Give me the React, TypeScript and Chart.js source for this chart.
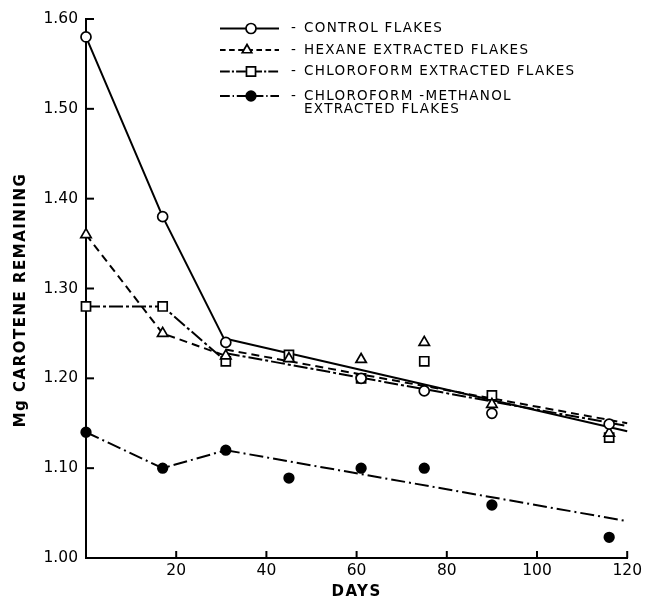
import React, { useEffect, useRef } from 'react';
import { Chart, registerables } from 'chart.js';

Chart.register(...registerables);

// ---- data ----
const days = [0, 17, 31, 45, 61, 75, 90, 116];
const controlFlakes = [1.58, 1.38, 1.24, null, 1.2, 1.186, 1.161, 1.149];
const hexaneFlakes = [1.36, 1.25, 1.225, 1.222, 1.221, 1.24, 1.171, 1.139];
const chloroformFlakes = [1.28, 1.28, 1.219, 1.226, 1.2, 1.219, 1.181, 1.134];
const chlMethFlakes = [1.14, 1.1, 1.12, 1.089, 1.1, 1.1, 1.059, 1.023];

// fitted (regression) lines, start and end
const fitDays = [31, 120];
const controlFit = [1.244, 1.141];
const hexaneFit = [1.232, 1.15];
const chloroformFit = [1.228, 1.147];
const chlMethFit = [1.12, 1.041];

// number of leading points joined by a polyline
const joinedCount = 3;

const xTickValues = [20, 40, 60, 80, 100, 120];
const yTickValues = [1.0, 1.1, 1.2, 1.3, 1.4, 1.5, 1.6];

const seriesLabels = [
  ['CONTROL FLAKES'],
  ['HEXANE EXTRACTED FLAKES'],
  ['CHLOROFORM EXTRACTED FLAKES'],
  ['CHLOROFORM -METHANOL', 'EXTRACTED FLAKES'],
];
const xTitle = 'DAYS';
const yTitle = 'Mg CAROTENE REMAINING';

// ---- styles ----
const INK = '#000';
const LINE_W = 2;
const styles = [
  { values: controlFlakes, fit: controlFit, pointStyle: 'circle', radius: 5, fill: '#fff', dash: [] as number[] },
  { values: hexaneFlakes, fit: hexaneFit, pointStyle: 'triangle', radius: 6, fill: '#fff', dash: [8, 5] },
  { values: chloroformFlakes, fit: chloroformFit, pointStyle: 'rect', radius: 6.4, fill: '#fff', dash: [14, 3, 3, 3] },
  { values: chlMethFlakes, fit: chlMethFit, pointStyle: 'circle', radius: 4.8, fill: '#000', dash: [14, 4, 2, 4] },
];

function drawMarker(ctx: CanvasRenderingContext2D, kind: string, x: number, y: number, r: number, fill: string) {
  ctx.save();
  ctx.setLineDash([]);
  ctx.lineWidth = 1.7;
  ctx.strokeStyle = INK;
  ctx.fillStyle = fill;
  ctx.beginPath();
  if (kind === 'circle') {
    ctx.arc(x, y, r, 0, Math.PI * 2);
  } else if (kind === 'triangle') {
    ctx.moveTo(x, y - r);
    ctx.lineTo(x + r * Math.sin((2 * Math.PI) / 3), y - r * Math.cos((2 * Math.PI) / 3));
    ctx.lineTo(x + r * Math.sin((4 * Math.PI) / 3), y - r * Math.cos((4 * Math.PI) / 3));
    ctx.closePath();
  } else {
    const s = r * Math.SQRT1_2;
    ctx.rect(x - s, y - s, 2 * s, 2 * s);
  }
  ctx.fill();
  ctx.stroke();
  ctx.restore();
}

const decorPlugin = {
  id: 'decor',
  afterDraw(chart: any) {
    const { ctx, chartArea } = chart;
    const xs = chart.scales.x;
    const ys = chart.scales.y;
    ctx.save();
    ctx.strokeStyle = INK;
    ctx.fillStyle = INK;
    ctx.lineWidth = 2;
    // inward tick marks
    yTickValues.forEach((v) => {
      if (v === yTickValues[0]) return;
      const py = ys.getPixelForValue(v);
      ctx.beginPath();
      ctx.moveTo(chartArea.left, py);
      ctx.lineTo(chartArea.left + 8, py);
      ctx.stroke();
    });
    xTickValues.forEach((v) => {
      const px = xs.getPixelForValue(v);
      ctx.beginPath();
      ctx.moveTo(px, chartArea.bottom);
      ctx.lineTo(px, chartArea.bottom - 7);
      ctx.stroke();
    });

    // axis titles
    ctx.textAlign = 'center';
    ctx.textBaseline = 'middle';
    ctx.font = 'bold 15px "DejaVu Sans"';
    (ctx as any).letterSpacing = '1.5px';
    ctx.fillText(xTitle, (chartArea.left + chartArea.right) / 2, 592);
    ctx.save();
    ctx.translate(21, 300);
    ctx.rotate(-Math.PI / 2);
    ctx.fillText(yTitle, 0, 0);
    ctx.restore();

    // legend
    const rowY = [28.5, 50, 71.5, 96];
    const markerX = [251, 247, 251, 251];
    ctx.font = '13.5px "DejaVu Sans"';
    (ctx as any).letterSpacing = '1.3px';
    ctx.textAlign = 'left';
    styles.forEach((s, i) => {
      const yy = rowY[i];
      ctx.save();
      ctx.lineWidth = LINE_W;
      ctx.setLineDash(s.dash.length ? s.dash.map((d) => d * 0.7) : []);
      ctx.beginPath();
      ctx.moveTo(220, yy);
      ctx.lineTo(279, yy);
      ctx.stroke();
      ctx.restore();
      drawMarker(ctx, s.pointStyle, markerX[i], yy, s.pointStyle === 'triangle' ? 5.5 : s.radius, s.fill);
      ctx.fillText('-', 291, yy);
      seriesLabels[i].forEach((line, k) => {
        ctx.fillText(line, 304, yy + k * 13.5);
      });
    });
    (ctx as any).letterSpacing = '0px';
    ctx.restore();
  },
};

export default function App() {
  const canvasRef = useRef<HTMLCanvasElement | null>(null);

  useEffect(() => {
    const canvas = canvasRef.current;
    if (!canvas) return;

    const datasets: any[] = [];
    styles.forEach((s, i) => {
      const pts = days
        .map((d, j) => ({ x: d, y: s.values[j] }))
        .filter((p) => p.y !== null && p.y !== undefined);
      // markers
      datasets.push({
        label: seriesLabels[i].join(' '),
        data: pts,
        showLine: false,
        pointStyle: s.pointStyle,
        pointRadius: s.radius,
        pointBackgroundColor: s.fill,
        pointBorderColor: INK,
        pointBorderWidth: 1.7,
        clip: false,
        order: i,
      });
      // polyline through the first points
      datasets.push({
        label: seriesLabels[i].join(' ') + ' (joined)',
        data: days.slice(0, joinedCount).map((d, j) => ({ x: d, y: s.values[j] })),
        showLine: true,
        borderColor: INK,
        borderWidth: LINE_W,
        borderDash: s.dash,
        pointRadius: 0,
        clip: false,
        order: 10 + i,
      });
      // fitted line
      datasets.push({
        label: seriesLabels[i].join(' ') + ' (fit)',
        data: fitDays.map((d, j) => ({ x: d, y: s.fit[j] })),
        showLine: true,
        borderColor: INK,
        borderWidth: LINE_W,
        borderDash: s.dash,
        pointRadius: 0,
        clip: false,
        order: 20 + i,
      });
    });

    const tickFont = { family: '"DejaVu Sans"', size: 15.5 };

    const chart = new Chart(canvas, {
      type: 'scatter',
      data: { datasets },
      options: {
        animation: false,
        responsive: false,
        maintainAspectRatio: false,
        layout: { padding: { top: 19, right: 16, left: 0, bottom: 0 } },
        plugins: { legend: { display: false }, tooltip: { enabled: false }, title: { display: false } },
        scales: {
          x: {
            type: 'linear',
            min: 0,
            max: 120,
            grid: { display: false, drawTicks: false },
            border: { display: true, color: INK, width: 2 },
            afterBuildTicks: (scale: any) => {
              scale.ticks = xTickValues.map((v) => ({ value: v }));
            },
            afterFit: (scale: any) => {
              scale.height = 45;
            },
            ticks: {
              color: INK,
              font: tickFont,
              padding: 4,
              maxRotation: 0,
              autoSkip: false,
              callback: (v: any) => String(v),
            },
          },
          y: {
            type: 'linear',
            min: 1.0,
            max: 1.6,
            grid: { display: false, drawTicks: false },
            border: { display: true, color: INK, width: 2 },
            afterBuildTicks: (scale: any) => {
              scale.ticks = yTickValues.map((v) => ({ value: v }));
            },
            afterFit: (scale: any) => {
              scale.width = 86;
            },
            ticks: {
              color: INK,
              font: tickFont,
              padding: 8,
              autoSkip: false,
              callback: (v: any) => Number(v).toFixed(2),
            },
          },
        },
      },
      plugins: [decorPlugin],
    } as any);

    return () => chart.destroy();
  }, []);

  return (
    <div style={{ position: 'absolute', left: 0, top: 0, width: 646, height: 603, background: '#fff' }}>
      <canvas ref={canvasRef} width={646} height={603} style={{ display: 'block' }} />
    </div>
  );
}
